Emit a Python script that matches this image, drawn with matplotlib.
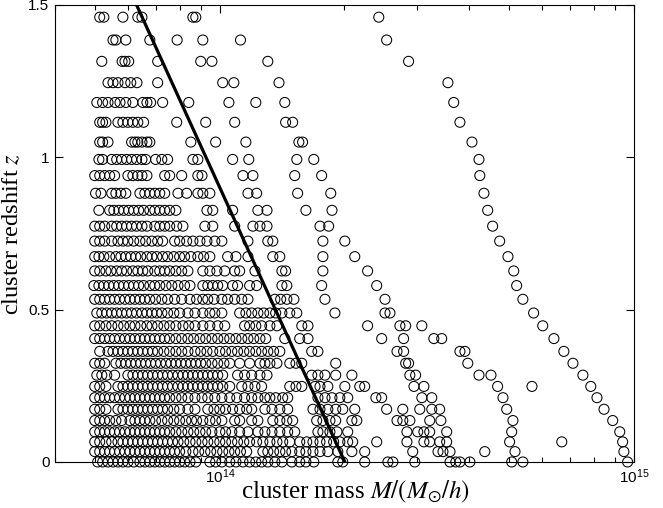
import numpy as np
import matplotlib
matplotlib.use("Agg")
import matplotlib.pyplot as plt
from matplotlib.ticker import LogLocator, FixedLocator, FuncFormatter, NullFormatter

plt.rcParams["font.family"] = ["Liberation Sans", "DejaVu Sans"]
plt.rcParams["mathtext.fontset"] = "stix"

# redshift bins (one row of clusters per bin), top to bottom
z_bins = [1.46, 1.385, 1.315, 1.245, 1.18, 1.115, 1.05, 0.993, 0.94, 0.882,
          0.826, 0.774, 0.725, 0.674, 0.627, 0.579, 0.534, 0.489, 0.447, 0.405,
          0.363, 0.324, 0.285, 0.248, 0.211, 0.173, 0.136, 0.099, 0.066, 0.034, 0.0]

# log10 of cluster mass [M_sun/h] in each redshift bin
logm_rows = [
    [13.710, 13.720, 13.766, 13.802, 13.812, 13.935, 13.942, 14.384],
    [13.742, 13.749, 13.773, 13.831, 13.897, 13.959, 14.050, 14.403],
    [13.715, 13.764, 13.771, 13.780, 13.850, 13.954, 13.981, 14.116, 14.456],
    [13.730, 13.742, 13.754, 13.771, 13.785, 13.800, 13.850, 14.007, 14.034, 14.143, 14.551],
    [13.703, 13.717, 13.730, 13.747, 13.759, 13.773, 13.790, 13.814, 13.824, 13.833, 13.862,
     13.925, 14.022, 14.087, 14.157, 14.565],
    [13.710, 13.717, 13.725, 13.754, 13.766, 13.778, 13.790, 13.802, 13.816, 13.896, 13.966,
     14.036, 14.159, 14.176, 14.580],
    [13.710, 13.717, 13.730, 13.787, 13.795, 13.802, 13.812, 13.824, 13.831, 13.930, 13.990,
     14.063, 14.191, 14.200, 14.609],
    [13.708, 13.717, 13.739, 13.751, 13.763, 13.775, 13.787, 13.799, 13.812, 13.821, 13.845,
     13.860, 13.874, 13.935, 13.947, 14.031, 14.070, 14.186, 14.227, 14.626],
    [13.698, 13.710, 13.722, 13.734, 13.746, 13.778, 13.790, 13.802, 13.812, 13.824, 13.867,
     13.879, 13.908, 13.947, 13.957, 14.056, 14.080, 14.181, 14.246, 14.628],
    [13.700, 13.713, 13.739, 13.749, 13.761, 13.773, 13.807, 13.819, 13.831, 13.843, 13.855,
     13.867, 13.899, 13.920, 13.947, 13.959, 13.976, 14.068, 14.089, 14.188, 14.268, 14.638],
    [13.708, 13.734, 13.744, 13.756, 13.768, 13.780, 13.792, 13.804, 13.816, 13.831, 13.843,
     13.855, 13.867, 13.879, 13.894, 13.969, 13.983, 14.031, 14.092, 14.114, 14.208, 14.271,
     14.647],
    [13.698, 13.710, 13.722, 13.739, 13.751, 13.763, 13.775, 13.787, 13.799, 13.812, 13.824,
     13.843, 13.855, 13.867, 13.879, 13.896, 13.911, 13.964, 13.983, 14.036, 14.080, 14.097,
     14.114, 14.242, 14.263, 14.659],
    [13.698, 13.710, 13.722, 13.739, 13.754, 13.766, 13.778, 13.792, 13.807, 13.821, 13.836,
     13.850, 13.862, 13.891, 13.903, 13.920, 13.935, 13.952, 13.969, 13.988, 14.005, 14.068,
     14.116, 14.128, 14.249, 14.302, 14.676],
    [13.698, 13.708, 13.720, 13.734, 13.749, 13.761, 13.773, 13.785, 13.797, 13.809, 13.824,
     13.836, 13.848, 13.862, 13.874, 13.889, 13.903, 13.915, 13.930, 13.947, 13.961, 13.976,
     14.019, 14.039, 14.068, 14.128, 14.145, 14.249, 14.326, 14.696],
    [13.698, 13.710, 13.725, 13.737, 13.751, 13.763, 13.775, 13.790, 13.802, 13.814, 13.826,
     13.843, 13.855, 13.867, 13.879, 13.894, 13.908, 13.923, 13.959, 13.976, 13.993, 14.012,
     14.036, 14.048, 14.085, 14.150, 14.159, 14.249, 14.357, 14.710],
    [13.696, 13.708, 13.720, 13.732, 13.744, 13.756, 13.768, 13.780, 13.792, 13.804, 13.816,
     13.831, 13.843, 13.855, 13.870, 13.884, 13.899, 13.915, 13.928, 13.959, 13.971, 13.983,
     13.995, 14.007, 14.031, 14.043, 14.072, 14.089, 14.150, 14.162, 14.246, 14.379, 14.717],
    [13.698, 13.710, 13.722, 13.734, 13.746, 13.758, 13.771, 13.783, 13.795, 13.807, 13.819,
     13.831, 13.845, 13.860, 13.874, 13.891, 13.908, 13.928, 13.944, 13.959, 13.971, 13.986,
     14.005, 14.019, 14.036, 14.053, 14.068, 14.133, 14.147, 14.162, 14.179, 14.254, 14.399,
     14.732],
    [13.703, 13.715, 13.727, 13.739, 13.751, 13.763, 13.775, 13.787, 13.799, 13.812, 13.824,
     13.836, 13.848, 13.860, 13.874, 13.889, 13.903, 13.923, 13.940, 13.959, 13.976, 13.988,
     14.005, 14.048, 14.063, 14.077, 14.092, 14.106, 14.121, 14.135, 14.150, 14.169, 14.186,
     14.278, 14.399, 14.411, 14.758],
    [13.698, 13.710, 13.725, 13.739, 13.754, 13.768, 13.783, 13.795, 13.809, 13.824, 13.836,
     13.850, 13.865, 13.879, 13.894, 13.911, 13.925, 13.940, 13.959, 13.976, 13.995, 14.012,
     14.060, 14.072, 14.087, 14.101, 14.121, 14.138, 14.198, 14.213, 14.357, 14.435, 14.449,
     14.488, 14.780],
    [13.698, 13.710, 13.722, 13.734, 13.746, 13.758, 13.771, 13.783, 13.795, 13.807, 13.819,
     13.831, 13.843, 13.855, 13.867, 13.879, 13.894, 13.908, 13.923, 13.937, 13.952, 13.966,
     13.981, 13.995, 14.010, 14.024, 14.039, 14.053, 14.068, 14.082, 14.097, 14.111, 14.157,
     14.193, 14.213, 14.391, 14.444, 14.517, 14.536, 14.807],
    [13.710, 13.730, 13.742, 13.754, 13.766, 13.778, 13.790, 13.802, 13.814, 13.826, 13.838,
     13.850, 13.865, 13.879, 13.894, 13.908, 13.923, 13.940, 13.954, 13.969, 13.983, 14.000,
     14.014, 14.029, 14.043, 14.058, 14.072, 14.087, 14.101, 14.116, 14.130, 14.145, 14.222,
     14.237, 14.428, 14.444, 14.580, 14.592, 14.831],
    [13.698, 13.710, 13.722, 13.749, 13.761, 13.773, 13.785, 13.797, 13.809, 13.821, 13.833,
     13.845, 13.857, 13.870, 13.882, 13.894, 13.906, 13.918, 13.930, 13.942, 13.954, 13.966,
     13.981, 13.995, 14.010, 14.024, 14.048, 14.072, 14.097, 14.109, 14.121, 14.138, 14.169,
     14.184, 14.198, 14.280, 14.449, 14.456, 14.599, 14.853],
    [13.703, 13.715, 13.727, 13.746, 13.778, 13.790, 13.802, 13.814, 13.826, 13.838, 13.850,
     13.862, 13.874, 13.886, 13.899, 13.911, 13.923, 13.935, 13.947, 13.959, 13.971, 13.983,
     13.995, 14.007, 14.043, 14.060, 14.077, 14.097, 14.114, 14.222, 14.237, 14.254, 14.280,
     14.319, 14.459, 14.473, 14.626, 14.655, 14.877],
    [13.698, 13.710, 13.725, 13.754, 13.766, 13.778, 13.790, 13.802, 13.814, 13.826, 13.838,
     13.850, 13.862, 13.874, 13.886, 13.899, 13.911, 13.923, 13.935, 13.947, 13.959, 13.971,
     13.983, 13.995, 14.007, 14.024, 14.053, 14.068, 14.085, 14.101, 14.169, 14.184, 14.198,
     14.230, 14.242, 14.261, 14.302, 14.338, 14.350, 14.469, 14.493, 14.671, 14.754, 14.896],
    [13.698, 13.710, 13.722, 13.734, 13.746, 13.758, 13.771, 13.783, 13.795, 13.807, 13.819,
     13.831, 13.843, 13.855, 13.867, 13.879, 13.894, 13.908, 13.923, 13.940, 13.957, 13.971,
     13.988, 14.005, 14.024, 14.041, 14.060, 14.077, 14.092, 14.109, 14.121, 14.135, 14.152,
     14.164, 14.237, 14.254, 14.271, 14.290, 14.309, 14.377, 14.391, 14.488, 14.512, 14.684,
     14.911],
    [13.698, 13.710, 13.725, 13.754, 13.766, 13.778, 13.790, 13.802, 13.814, 13.826, 13.838,
     13.850, 13.862, 13.874, 13.889, 13.903, 13.923, 13.940, 13.971, 13.986, 14.000, 14.014,
     14.031, 14.048, 14.065, 14.077, 14.109, 14.126, 14.145, 14.164, 14.225, 14.242, 14.261,
     14.280, 14.297, 14.326, 14.403, 14.442, 14.483, 14.512, 14.531, 14.693, 14.928],
    [13.698, 13.710, 13.722, 13.734, 13.749, 13.763, 13.783, 13.795, 13.807, 13.819, 13.831,
     13.845, 13.860, 13.874, 13.889, 13.903, 13.918, 13.932, 13.944, 13.959, 13.976, 13.990,
     14.005, 14.036, 14.048, 14.077, 14.092, 14.128, 14.145, 14.162, 14.176, 14.234, 14.249,
     14.266, 14.280, 14.319, 14.331, 14.428, 14.442, 14.459, 14.507, 14.534, 14.708, 14.949],
    [13.698, 13.710, 13.722, 13.734, 13.746, 13.758, 13.771, 13.783, 13.795, 13.807, 13.819,
     13.831, 13.843, 13.855, 13.867, 13.879, 13.894, 13.908, 13.923, 13.937, 13.952, 13.966,
     13.981, 14.000, 14.014, 14.029, 14.048, 14.068, 14.092, 14.109, 14.126, 14.145, 14.164,
     14.181, 14.237, 14.249, 14.266, 14.283, 14.309, 14.452, 14.478, 14.493, 14.507, 14.548,
     14.705, 14.966],
    [13.698, 13.710, 13.725, 13.739, 13.754, 13.766, 13.778, 13.790, 13.802, 13.814, 13.826,
     13.838, 13.850, 13.862, 13.874, 13.886, 13.899, 13.913, 13.928, 13.942, 13.957, 13.971,
     13.986, 14.000, 14.014, 14.029, 14.043, 14.058, 14.072, 14.089, 14.104, 14.121, 14.138,
     14.152, 14.169, 14.193, 14.210, 14.225, 14.242, 14.258, 14.275, 14.290, 14.309, 14.321,
     14.379, 14.452, 14.493, 14.507, 14.531, 14.548, 14.700, 14.826, 14.973],
    [13.698, 13.710, 13.722, 13.734, 13.746, 13.758, 13.771, 13.783, 13.795, 13.807, 13.819,
     13.831, 13.843, 13.855, 13.867, 13.879, 13.891, 13.903, 13.918, 13.935, 13.949, 13.964,
     13.978, 13.993, 14.007, 14.022, 14.036, 14.050, 14.065, 14.104, 14.116, 14.130, 14.145,
     14.159, 14.174, 14.193, 14.208, 14.225, 14.242, 14.261, 14.285, 14.319, 14.350, 14.466,
     14.527, 14.539, 14.556, 14.640, 14.713, 14.976],
    [13.705, 13.717, 13.730, 13.742, 13.754, 13.766, 13.778, 13.792, 13.807, 13.819, 13.831,
     13.843, 13.855, 13.867, 13.879, 13.891, 13.903, 13.915, 13.928, 13.942, 13.976, 13.990,
     14.005, 14.024, 14.039, 14.056, 14.072, 14.087, 14.101, 14.116, 14.133, 14.150, 14.174,
     14.193, 14.208, 14.227, 14.285, 14.297, 14.350, 14.406, 14.418, 14.471, 14.556, 14.570,
     14.580, 14.604, 14.705, 14.732, 14.985],
]

# mass threshold line, log10 M versus z
line_z = [0.0, 1.5]
line_logm = [14.302, 13.799]

mass = np.concatenate([10 ** np.array(r) for r in logm_rows])
zz = np.concatenate([np.full(len(r), z) for r, z in zip(logm_rows, z_bins)])

fig = plt.figure(figsize=(6.63, 5.08), dpi=100)
ax = fig.add_axes([0.083, 0.0906, 0.873, 0.8996])

ax.scatter(mass, zz, s=52, facecolors="none", edgecolors="k", linewidths=0.75,
           clip_on=False, zorder=2)
ax.plot(10 ** np.array(line_logm), line_z, color="k", lw=2.3, zorder=3)

ax.set_xscale("log")
ax.set_xlim(4e13, 1e15)
ax.set_ylim(0, 1.5)

ax.xaxis.set_major_locator(LogLocator(base=10))
ax.xaxis.set_minor_locator(LogLocator(base=10, subs=np.arange(2, 10)))
ax.xaxis.set_minor_formatter(NullFormatter())
ax.yaxis.set_major_locator(FixedLocator([0, 0.5, 1, 1.5]))
ax.yaxis.set_major_formatter(FuncFormatter(lambda v, p: "%g" % v))

ax.tick_params(which="both", direction="in", top=True, right=True,
               labelsize=11, width=0.8)
ax.tick_params(which="major", length=6, pad=4)
ax.tick_params(which="minor", length=3.5)
for s in ax.spines.values():
    s.set_linewidth(0.8)

ax.set_xlabel(r"cluster mass $M/(M_{\odot}/h)$", family="Liberation Serif",
              fontsize=18, va="top")
ax.xaxis.set_label_coords(0.52, -0.037)
ax.set_ylabel(r"cluster redshift $z$", family="Liberation Serif",
              fontsize=17.5, va="center")
ax.yaxis.set_label_coords(-0.074, 0.5)

fig.savefig("out.png", dpi=100)
